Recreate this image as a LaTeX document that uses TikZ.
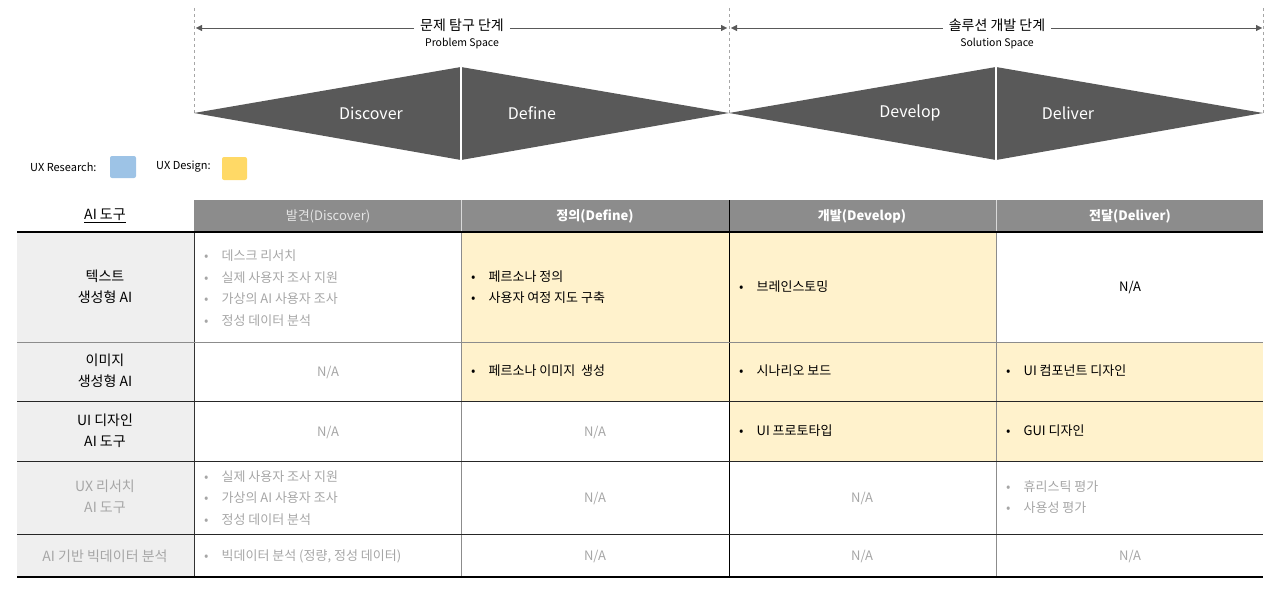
\documentclass[tikz,border=0pt]{standalone}
\usepackage{fontspec}
\setmainfont{Noto Sans CJK KR}
\usetikzlibrary{arrows.meta}
\definecolor{dia}{HTML}{595959}
\definecolor{hdr}{HTML}{8C8C8C}
\definecolor{lbl}{HTML}{EFEFEF}
\definecolor{ylw}{HTML}{FFF2CC}
\definecolor{gtx}{HTML}{A6A6A6}
\definecolor{gln}{HTML}{8C8C8C}
\tikzset{
 txt/.style={font=\fontsize{13}{17}\selectfont, inner sep=0pt},
 gray txt/.style={txt, text=gtx},
 lst/.style={txt, align=left, anchor=west},
 hdtxt/.style={font=\fontsize{13}{16}\selectfont\bfseries, text=white},
 phase/.style={font=\fontsize{16}{18}\selectfont, text=white},
 guide/.style={draw=gray!70, dashed, thin},
}
\begin{document}
\begin{tikzpicture}[x=1pt,y=-1pt]
\useasboundingbox (0,0) rectangle (1280,594);
% dashed guides
\draw[guide] (194,8) -- (194,113);
\draw[guide] (729,8) -- (729,113);
\draw[guide] (1263,8) -- (1263,113);
% arrows
\node[txt,font=\fontsize{14}{16}\selectfont] (t1) at (462,25) {문제 탐구 단계};
\node[txt,font=\fontsize{10.5}{12}\selectfont] (s1) at (462,44) {Problem Space};
\node[txt,font=\fontsize{14}{16}\selectfont] (t2) at (997,25) {솔루션 개발 단계};
\node[txt,font=\fontsize{10.5}{12}\selectfont] (s2) at (997,44) {Solution Space};
\coordinate (a1) at (196,28); \coordinate (a2) at (727,28);
\coordinate (a3) at (731,28); \coordinate (a4) at (1262,28);
\draw[-{Triangle[length=6pt,width=6pt]},dia] (t1.west|-a1) ++(-6,0) -- (a1);
\draw[-{Triangle[length=6pt,width=6pt]},dia] (t1.east|-a1) ++(6,0) -- (a2);
\draw[-{Triangle[length=6pt,width=6pt]},dia] (t2.west|-a1) ++(-6,0) -- (a3);
\draw[-{Triangle[length=6pt,width=6pt]},dia] (t2.east|-a1) ++(6,0) -- (a4);
% diamonds
\fill[dia] (194,113) -- (461,67) -- (729,113) -- (461,160) -- cycle;
\fill[dia] (729,113) -- (996,67) -- (1263,113) -- (996,160) -- cycle;
\draw[white,line width=1.2pt] (461,67) -- (461,160);
\draw[white,line width=1.2pt] (996,67) -- (996,160);
\node[phase] (p1) at (371,113) {Discover};
\node[phase] (p2) at (532,113) {Define};
\node[phase] (p3) at (910,113) {Develop};
\node[phase] (p4) at (1068,113) {Deliver};
% legend
\node[txt,font=\fontsize{11}{13}\selectfont,anchor=west] (l1) at (30,167) {UX Research:};
\fill[fill={rgb,255:red,157;green,195;blue,230}, rounded corners=2pt] (110,156) rectangle (136,178);
\node[txt,font=\fontsize{11}{13}\selectfont,anchor=west] (l2) at (156,167) {UX Design:};
\fill[fill={rgb,255:red,255;green,217;blue,102}, rounded corners=2pt] (222,157) rectangle (247,180);
% header
\fill[hdr] (194,200) rectangle (1263,232);
\draw[white!85!black, thin] (461,200) -- (461,232) (996,200) -- (996,232);
\draw[black, line width=1pt] (729,200) -- (729,232);
\node[txt,font=\fontsize{14}{16}\selectfont] (h0) at (105,216) {\underline{AI 도구}};
\node[txt,font=\fontsize{13}{16}\selectfont, text=white!80!gray] (h1) at (328,216) {발견(Discover)};
\node[hdtxt] (h2) at (595,216) {정의(Define)};
\node[hdtxt] (h3) at (862,216) {개발(Develop)};
\node[hdtxt] (h4) at (1130,216) {전달(Deliver)};
% fills
\fill[lbl] (17,232) rectangle (194,577);
\fill[ylw] (461,232) rectangle (729,342);
\fill[ylw] (729,232) rectangle (996,342);
\fill[ylw] (461,342) rectangle (1263,401);
\fill[ylw] (729,401) rectangle (1263,461);
% grid
\draw[gln, thin] (461,232) -- (461,577) (996,232) -- (996,577);
\draw[black!80, thin] (194,232) -- (194,577);
\draw[black, line width=1pt] (729,232) -- (729,577);
\draw[black, line width=1.5pt] (17,232) -- (1263,232);
\draw[gln, line width=1pt] (17,342) -- (1263,342);
\draw[black!85, line width=1pt] (17,401) -- (1263,401) (17,461) -- (1263,461) (17,534) -- (1263,534);
\draw[black, line width=1.5pt] (17,577) -- (1263,577);
% labels
\node[txt,align=center,font=\fontsize{14}{21}\selectfont] (r1) at (105,287) {텍스트\\생성형 AI};
\node[txt,align=center,font=\fontsize{14}{21}\selectfont] (r2) at (105,371) {이미지\\생성형 AI};
\node[txt,align=center,font=\fontsize{14}{21}\selectfont] (r3) at (105,431) {UI 디자인\\AI 도구};
\node[txt,align=center,font=\fontsize{14}{21}\selectfont,text=gtx] (r4) at (105,497) {UX 리서치\\AI 도구};
\node[txt,align=center,font=\fontsize{14}{21}\selectfont,text=gtx] (r5) at (105,556) {AI 기반 빅데이터 분석};
% row 1
\node[lst,text=gtx,font=\fontsize{13}{21.5}\selectfont] (c11) at (204,288) {•\quad 데스크 리서치\\•\quad 실제 사용자 조사 지원\\•\quad 가상의 AI 사용자 조사\\•\quad 정성 데이터 분석};
\node[lst,font=\fontsize{13}{21.5}\selectfont] (c12) at (471,287) {•\quad 페르소나 정의\\•\quad 사용자 여정 지도 구축};
\node[lst] (c13) at (739,287) {•\quad 브레인스토밍};
\node[txt] (c14) at (1130,288) {N/A};
% row 2
\node[gray txt] (c21) at (328,372) {N/A};
\node[lst] (c22) at (471,371) {•\quad 페르소나 이미지\ \ 생성};
\node[lst] (c23) at (739,371) {•\quad 시나리오 보드};
\node[lst] (c24) at (1006,371) {•\quad UI 컴포넌트 디자인};
% row 3
\node[gray txt] (c31) at (328,432) {N/A};
\node[gray txt] (c32) at (595,432) {N/A};
\node[lst] (c33) at (739,431) {•\quad UI 프로토타입};
\node[lst] (c34) at (1006,431) {•\quad GUI 디자인};
% row 4
\node[lst,text=gtx,font=\fontsize{13}{21.5}\selectfont] (c41) at (204,498) {•\quad 실제 사용자 조사 지원\\•\quad 가상의 AI 사용자 조사\\•\quad 정성 데이터 분석};
\node[gray txt] (c42) at (595,498) {N/A};
\node[gray txt] (c43) at (862,498) {N/A};
\node[lst,text=gtx,font=\fontsize{13}{21.5}\selectfont] (c44) at (1006,497) {•\quad 휴리스틱 평가\\•\quad 사용성 평가};
% row 5
\node[lst,text=gtx] (c51) at (204,556) {•\quad 빅데이터 분석 (정량, 정성 데이터)};
\node[gray txt] (c52) at (595,556) {N/A};
\node[gray txt] (c53) at (862,556) {N/A};
\node[gray txt] (c54) at (1130,556) {N/A};
\end{tikzpicture}
\end{document}
